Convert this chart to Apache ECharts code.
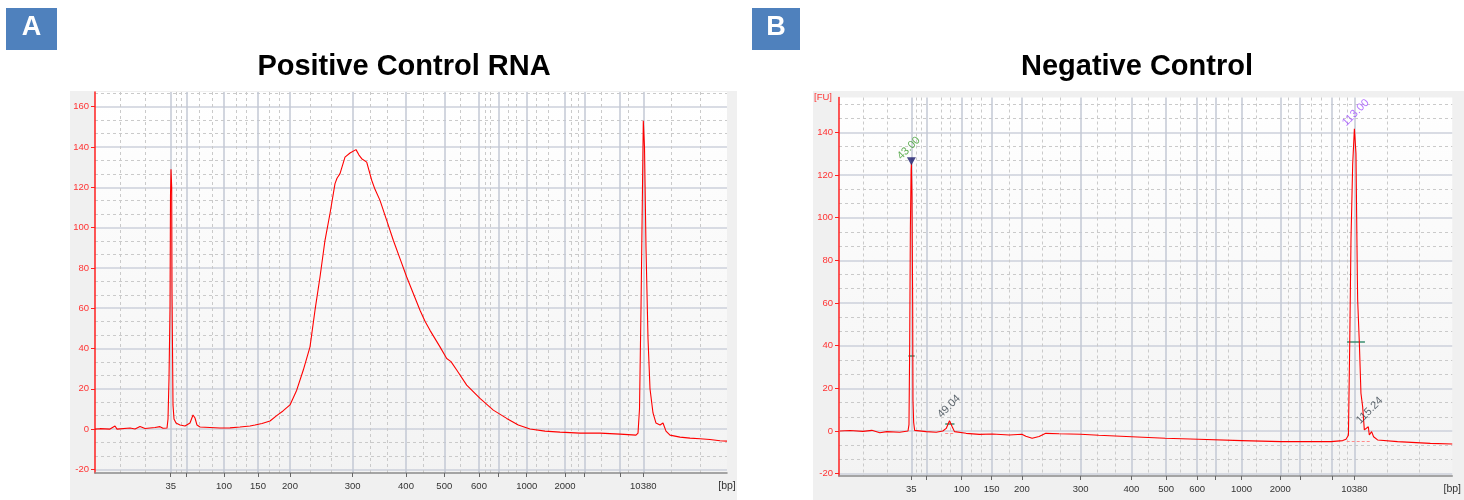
<!DOCTYPE html>
<html>
<head>
<meta charset="utf-8">
<script src="https://cdn.jsdelivr.net/npm/echarts@6/dist/echarts.min.js"></script>
<style>
  html, body { margin: 0; padding: 0; background: #fff; }
  #main { width: 1464px; height: 500px; }
</style>
</head>
<body>
<div id="main"></div>
<script>
// migration time (s) on both electropherograms, bp ladder marked on the axis
const ladderTimeA = [24.57, 26.17, 29.9, 33.3, 36.5, 42.77, 48.1, 51.93, 55.4, 57.37, 60.17, 64.0, 65.93, 69.5, 71.83];
const ladderTimeB = [24.27, 25.77, 29.33, 32.33, 35.37, 41.27, 46.37, 49.87, 52.97, 54.83, 57.43, 61.33, 63.33, 66.53, 68.77];
const ladderLabels = ['35', '', '100', '150', '200', '300', '400', '500', '600', '', '1000', '2000', '', '', '10380'];
const minorTimeA = [19.5, 22.07, 25.1, 25.67, 27.43, 28.7, 31.1, 32.17, 34.4, 35.43, 38.5, 40.67, 44.5, 46.2, 49.8,
  53.5, 56.0, 56.5, 58.3, 59.17, 61.17, 62.3, 64.67, 65.3, 67.67, 70.3, 74.67, 77.5];
const minorTimeB = [19.43, 21.83, 24.77, 25.27, 27.27, 28.17, 30.27, 31.27, 34.1, 37.37, 39.27, 42.9, 44.77, 48.1,
  51.27, 53.93, 56.1, 58.93, 62.1, 64.43, 65.43, 67.27, 68.03, 72.03, 75.27];
const fuTicksA = [-20, 0, 20, 40, 60, 80, 100, 120, 140, 160];
const fuTicksB = [-20, 0, 20, 40, 60, 80, 100, 120, 140];

// A: positive control RNA
const timeA = [17.0, 17.5, 18.5, 19.0, 19.2, 20.5, 21.0, 21.5, 22.0, 23.0, 23.5, 23.8, 24.2, 24.3, 24.4, 24.5, 24.55,
  24.6, 24.67, 24.7, 24.75, 24.8, 24.9, 25.1, 25.5, 26.0, 26.5, 26.8, 27.0, 27.2, 27.5, 28.5, 29.5, 30.5, 31.5,
  32.5, 33.0, 33.7, 34.5, 35.2, 35.8, 36.5, 37.17, 37.83, 38.5, 39.0, 39.5, 40.0, 40.5, 41.0, 41.2, 41.5, 42.0, 42.5,
  43.1, 43.4, 43.67, 44.17, 44.67, 45.0, 45.5, 46.17, 46.83, 47.5, 48.17, 48.83, 49.5, 50.0, 50.5, 51.5, 52.17, 52.6,
  53.17, 54.17, 55.5, 56.83, 58.17, 59.33, 60.5, 62.0, 63.5, 65.5, 67.5, 69.5, 71.1, 71.3, 71.45, 71.6, 71.75, 71.83,
  71.95, 72.1, 72.3, 72.5, 72.8, 73.1, 73.5, 73.8, 74.1, 74.5, 75.5, 76.5, 77.5, 78.5, 79.5, 80.2];
const fuA = [0, 0.2, 0, 1.5, 0, 0.5, 0, 1.3, 0.3, 0.8, 1.2, 0.4, 0.5, 5, 25, 60, 116,
  129, 120, 70, 40, 12, 5, 3, 2, 1.5, 3, 7, 5.5, 2, 1, 0.8, 0.5, 0.6, 1,
  1.5, 2, 2.8, 4, 6.8, 9, 12, 19.3, 29.3, 40.8, 59, 75.5, 93.7, 107, 121.8, 124.5, 126.8, 135, 137,
  138.7, 136, 134.2, 132.5, 123.5, 119, 113.5, 103.6, 93.7, 84.6, 75.5, 67.3, 59, 53.5, 49, 40.8, 35, 33.5,
  29.3, 21.8, 15.2, 9.4, 5.3, 2, 0, -1, -1.5, -2, -2, -2.5, -3, -2, 10, 60, 120, 153,
  140, 90, 45, 20, 8, 3, 2, 3, -1, -3, -4, -4.5, -4.8, -5.2, -5.8, -6];

// B: negative control
const timeB = [17.1, 18.1, 19.4, 20.3, 21.1, 21.8, 23.1, 23.93, 24.03, 24.1, 24.17, 24.24, 24.27, 24.33, 24.4,
  24.43, 24.5, 24.6, 24.8, 25.77, 26.77, 27.43, 27.77, 28.1, 28.37, 28.6, 29.77, 31.1, 32.4, 34.1, 35.37, 35.77,
  36.4, 37.1, 37.77, 39.1, 41.27, 43.1, 46.4, 49.77, 53.1, 57.43, 61.43, 66.43, 67.6, 67.93, 68.17, 68.3, 68.43,
  68.6, 68.77, 68.93, 69.0, 69.06, 69.1, 69.27, 69.43, 69.6, 69.77, 69.93, 70.17, 70.27, 70.5, 70.7, 71.1, 73.1,
  76.4, 78.6];
const fuB = [0, 0.2, -0.2, 0.3, -0.8, -0.3, -0.6, 0, 3, 40, 95, 122, 125.5, 110, 60,
  14.5, 4, 0.3, 0, -0.3, -0.6, 0, 1.2, 4.8, 2, -0.3, -1.1, -1.6, -1.4, -1.9, -1.5, -2.5,
  -3.4, -2.6, -1.1, -1.3, -1.5, -2, -2.7, -3.4, -3.9, -4.5, -5, -5, -4.5, -3.9, -2, 40, 90,
  125, 141.6, 130, 100, 75, 61.4, 41.1, 17.7, 11.4, 0.5, 0, 2, -1.9, -0.3, -2.7, -4.2, -5,
  -5.8, -6.1];

// called peaks in B: [time, height]
const peakNamesB = ['43.00', '49.04', '113.00', '115.24'];
const peakTimeB = [24.27, 28.1, 68.77, 70.17];
const peakFuB = [125.5, 4.8, 141.6, 2];
const peakColorsB = ['#3a9a2a', '#34404a', '#a050ff', '#34404a'];
// peak windows [start, end, level]
const peakWindowsB = [[23.97, 24.6, 35.3], [27.67, 28.6, 3.6], [68.03, 69.83, 41.7]];
const peakBaselinesB = [[27.67, 28.6, -1.1], [68.0, 70.4, -5]];

const font = 'Liberation Sans';

function pairs(xs, ys) {
  return xs.map((x, i) => [x, ys[i]]);
}

function thirds(ticks, max) {
  const out = [];
  const step = (ticks[1] - ticks[0]) / 3;
  for (let v = ticks[0]; v < max; v += step * 3) {
    if (v + step < max) out.push(v + step);
    if (v + 2 * step < max) out.push(v + 2 * step);
  }
  return out;
}

function mainX(gridIndex, min, max, ticks) {
  return {
    type: 'value', gridIndex, min, max,
    axisLine: { show: true, onZero: false, lineStyle: { color: '#8a8a8a', width: 1.5 } },
    axisTick: { show: true, length: 4, lineStyle: { color: '#666' }, customValues: ticks },
    axisLabel: {
      customValues: ticks.filter((v, i) => ladderLabels[i]),
      formatter: v => ladderLabels[ticks.findIndex(t => Math.abs(t - v) < 1e-6)] || '',
      color: '#333', fontSize: 9.5, fontFamily: font, margin: 8
    },
    splitLine: { show: true, lineStyle: { color: '#c3c8d4', width: 1.5 } },
    name: '[bp]', nameLocation: 'end', nameGap: 0,
    nameTextStyle: { color: '#333', fontSize: 10.5, fontFamily: font, align: 'center', verticalAlign: 'top', padding: [8, 0, 0, 0] }
  };
}

function minorX(gridIndex, min, max, minor) {
  return {
    type: 'value', gridIndex, min, max,
    axisLine: { show: false }, axisLabel: { show: false },
    axisTick: { show: false, customValues: minor },
    splitLine: { show: true, lineStyle: { color: '#cacaca', width: 1, type: [3, 3] } }
  };
}

function mainY(gridIndex, min, max, ticks, name) {
  return {
    type: 'value', gridIndex, min, max,
    axisLine: { show: true, onZero: false, lineStyle: { color: '#ff2020', width: 1.5 } },
    axisTick: { show: true, length: 4, lineStyle: { color: '#ff2020' }, customValues: ticks },
    axisLabel: { customValues: ticks, color: '#ff3333', fontSize: 9.5, fontFamily: font, margin: 6 },
    splitLine: { show: true, lineStyle: { color: '#cdd1db', width: 1.5 } },
    name: name || '', nameLocation: 'end', nameGap: 0,
    nameTextStyle: { color: '#ff3333', fontSize: 9.5, fontFamily: font, align: 'right', verticalAlign: 'middle', padding: [0, 7, 0, 0] }
  };
}

function minorY(gridIndex, min, max, ticks) {
  return {
    type: 'value', gridIndex, min, max,
    axisLine: { show: false }, axisLabel: { show: false },
    axisTick: { show: false, customValues: thirds(ticks, max) },
    splitLine: { show: true, lineStyle: { color: '#cacaca', width: 1, type: [3, 3] } }
  };
}

const plotBg = new echarts.graphic.LinearGradient(0, 0, 0, 1, [
  { offset: 0, color: '#ffffff' }, { offset: 1, color: '#f3f3f3' }
]);

const chart = echarts.init(document.getElementById('main'));

const option = {
  animation: false,
  backgroundColor: '#fff',
  grid: [
    { left: 95, top: 92, width: 632, height: 381, show: true, backgroundColor: plotBg, borderWidth: 0 },
    { left: 839, top: 97.5, width: 616, height: 378.5, show: true, backgroundColor: plotBg, borderWidth: 0 }
  ],
  xAxis: [
    mainX(0, 17, 80.2, ladderTimeA),
    minorX(0, 17, 80.2, minorTimeA),
    mainX(1, 17, 78.6, ladderTimeB),
    minorX(1, 17, 78.6, minorTimeB)
  ],
  yAxis: [
    mainY(0, -21.8, 167.3, fuTicksA),
    minorY(0, -21.8, 167.3, fuTicksA),
    mainY(1, -21.1, 156.3, fuTicksB, '[FU]'),
    minorY(1, -21.1, 156.3, fuTicksB)
  ],
  series: [
    {
      type: 'line', xAxisIndex: 0, yAxisIndex: 0, data: pairs(timeA, fuA),
      showSymbol: false, lineStyle: { color: '#ff0000', width: 1.1 }, z: 5
    },
    {
      type: 'line', xAxisIndex: 2, yAxisIndex: 2, data: pairs(timeB, fuB),
      showSymbol: false, lineStyle: { color: '#ff0000', width: 1.1 }, z: 5,
      markLine: {
        silent: true, symbol: 'none', animation: false, label: { show: false },
        data: peakWindowsB.map(w => [
          { coord: [w[0], w[2]], lineStyle: { color: '#3a8f70', width: 1.5, type: 'solid' } },
          { coord: [w[1], w[2]] }
        ]).concat(peakBaselinesB.map(w => [
          { coord: [w[0], w[2]], lineStyle: { color: '#ff8a8a', width: 1, type: [3, 2] } },
          { coord: [w[1], w[2]] }
        ]))
      }
    },
    {
      // peak marker of the lower marker
      type: 'scatter', xAxisIndex: 2, yAxisIndex: 2, z: 6,
      data: [[peakTimeB[0], peakFuB[0]]],
      symbol: 'triangle', symbolRotate: 180, symbolSize: [9, 8], symbolOffset: [0, -2],
      itemStyle: { color: '#1c1c6b' }
    },
    {
      type: 'scatter', xAxisIndex: 2, yAxisIndex: 2, z: 7, symbolSize: 0.1,
      data: peakNamesB.map((n, i) => ({
        value: [peakTimeB[i], peakFuB[i]],
        label: { color: peakColorsB[i], offset: i === 0 ? [-5, -7] : [-4, -5] }
      })),
      label: {
        show: true, position: 'inside', align: 'left', verticalAlign: 'bottom', rotate: 45,
        fontSize: 11, fontFamily: font,
        formatter: p => peakNamesB[p.dataIndex]
      }
    }
  ],
  graphic: [
    { type: 'rect', z: -10, silent: true, shape: { x: 70, y: 91, width: 667, height: 409 }, style: { fill: '#f0f0f0' } },
    { type: 'rect', z: -10, silent: true, shape: { x: 813, y: 91, width: 651, height: 409 }, style: { fill: '#f0f0f0' } },
    { type: 'rect', shape: { x: 6, y: 8, width: 51, height: 42 }, style: { fill: '#4f81bd' } },
    { type: 'text', x: 31.5, y: 28, style: { text: 'A', fill: '#fff', font: 'bold 27px "Liberation Sans"', textAlign: 'center', textVerticalAlign: 'middle' } },
    { type: 'rect', shape: { x: 752, y: 8, width: 48, height: 42 }, style: { fill: '#4f81bd' } },
    { type: 'text', x: 776, y: 28, style: { text: 'B', fill: '#fff', font: 'bold 27px "Liberation Sans"', textAlign: 'center', textVerticalAlign: 'middle' } },
    { type: 'text', x: 404, y: 67, style: { text: 'Positive Control RNA', fill: '#000', font: 'bold 29px "Liberation Sans"', textAlign: 'center', textVerticalAlign: 'middle' } },
    { type: 'text', x: 1137, y: 67, style: { text: 'Negative Control', fill: '#000', font: 'bold 29px "Liberation Sans"', textAlign: 'center', textVerticalAlign: 'middle' } }
  ]
};

chart.setOption(option);
</script>
</body>
</html>
